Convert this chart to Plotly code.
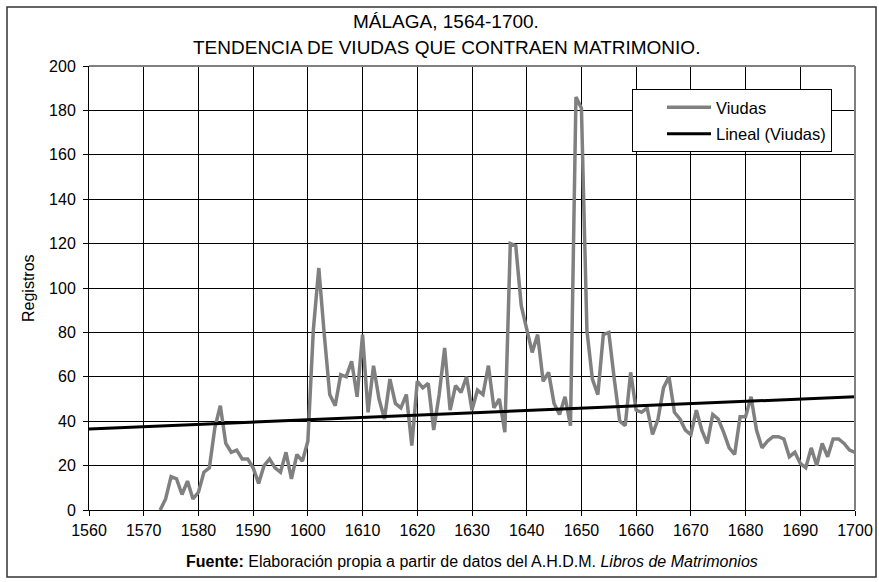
import plotly.graph_objects as go

# ---- data ----
years = list(range(1573, 1701))
viudas = [
    0, 5, 15, 14, 7, 13, 5,                      # 1573-1579
    8, 17, 19, 37, 47, 30, 26, 27, 23, 23,       # 1580-1589
    19, 12, 20, 23, 19, 17, 26, 14, 25, 22,      # 1590-1599
    31, 81, 109, 79, 52, 47, 61, 60, 67, 51,     # 1600-1609
    79, 44, 65, 50, 41, 59, 48, 46, 52, 29,      # 1610-1619
    58, 55, 57, 36, 52, 73, 45, 56, 53, 60,      # 1620-1629
    45, 54, 52, 65, 46, 50, 35, 120, 119, 92,    # 1630-1639
    82, 71, 79, 58, 62, 48, 43, 51, 38, 186,     # 1640-1649
    181, 81, 59, 52, 79, 80, 59, 40, 38, 62,     # 1650-1659
    45, 44, 46, 34, 41, 55, 60, 44, 41, 36,      # 1660-1669
    34, 45, 36, 30, 43, 41, 35, 28, 25, 42,      # 1670-1679
    42, 51, 36, 28, 31, 33, 33, 32, 24, 26,      # 1680-1689
    21, 19, 28, 20, 30, 24, 32, 32, 30, 27,      # 1690-1699
    26,                                          # 1700
]
trend_years = [1560, 1700]
trend_values = [36.5, 51.0]

x_ticks = list(range(1560, 1701, 10))
y_ticks = list(range(0, 201, 20))

FONT = "Liberation Sans, Arial, sans-serif"

fig = go.Figure()
fig.add_trace(go.Scatter(
    x=years, y=viudas, mode="lines", name="Viudas",
    line=dict(color="#808080", width=3.5), legendgroup="a",
))
fig.add_trace(go.Scatter(
    x=trend_years, y=trend_values, mode="lines", name="Lineal (Viudas)",
    line=dict(color="#000000", width=3), legendgroup="b",
))

W, H = 879, 582
L, R, T, B = 89, 24, 66, 72
pw, ph = W - L - R, H - T - B


def px(xp):
    return (xp - L) / pw


def py(yp):
    return (H - B - yp) / ph


fig.update_layout(
    width=W, height=H, autosize=False,
    margin=dict(l=L, r=R, t=T, b=B, pad=0, autoexpand=False),
    paper_bgcolor="white", plot_bgcolor="white",
    font=dict(family=FONT, size=16, color="black"),
    showlegend=True,
    legend=dict(
        x=px(832), xanchor="right", y=py(89), yanchor="top",
        bordercolor="black", borderwidth=1, bgcolor="white",
        font=dict(family=FONT, size=16.5, color="black"),
        tracegroupgap=2, indentation=29, itemwidth=44,
    ),
    xaxis=dict(
        range=[1560, 1700], tickvals=x_ticks, ticktext=[str(v) for v in x_ticks],
        showgrid=True, gridcolor="black", gridwidth=1,
        showline=True, linecolor="black", linewidth=1,
        ticks="outside", ticklen=5, tickcolor="black",
        zeroline=False, ticklabelstandoff=1,
        tickfont=dict(family=FONT, size=16, color="black"),
    ),
    yaxis=dict(
        range=[0, 200], tickvals=y_ticks,
        showgrid=True, gridcolor="black", gridwidth=1,
        showline=True, linecolor="black", linewidth=1,
        ticks="outside", ticklen=5, tickcolor="black",
        zeroline=False, ticklabelstandoff=4,
        tickfont=dict(family=FONT, size=16, color="black"),
    ),
    shapes=[
        # outer chart frame
        dict(type="rect", xref="paper", yref="paper",
             x0=px(7), x1=px(876), y0=py(577), y1=py(7),
             line=dict(color="#333333", width=1.5), layer="below"),
        # plot-area top and right edges (gray)
        dict(type="line", xref="paper", yref="paper",
             x0=0, x1=1, y0=1, y1=1, line=dict(color="#808080", width=2)),
        dict(type="line", xref="paper", yref="paper",
             x0=1, x1=1, y0=0, y1=1, line=dict(color="#808080", width=2)),
    ],
    annotations=[
        dict(text="MÁLAGA, 1564-1700.", xref="paper", yref="paper",
             x=px(446), y=py(22), xanchor="center", yanchor="middle",
             showarrow=False, font=dict(family=FONT, size=19, color="black")),
        dict(text="TENDENCIA DE VIUDAS QUE CONTRAEN MATRIMONIO.", xref="paper", yref="paper",
             x=px(446), y=py(47), xanchor="center", yanchor="middle",
             showarrow=False, font=dict(family=FONT, size=19, color="black")),
        dict(text="Registros", xref="paper", yref="paper",
             x=px(28), y=0.5, xanchor="center", yanchor="middle", textangle=-90,
             showarrow=False, font=dict(family=FONT, size=16, color="black")),
        dict(text="<b>Fuente:</b> Elaboración propia a partir de datos del A.H.D.M. <i>Libros de Matrimonios</i>",
             xref="paper", yref="paper",
             x=0.5, y=py(561), xanchor="center", yanchor="middle",
             showarrow=False, font=dict(family=FONT, size=16, color="black")),
    ],
)

fig.write_html(
    "out.html",
    config={"displayModeBar": False, "responsive": False},
    default_width="879px", default_height="582px",
    post_script="document.body.style.margin='0';document.body.style.overflow='hidden';",
)
